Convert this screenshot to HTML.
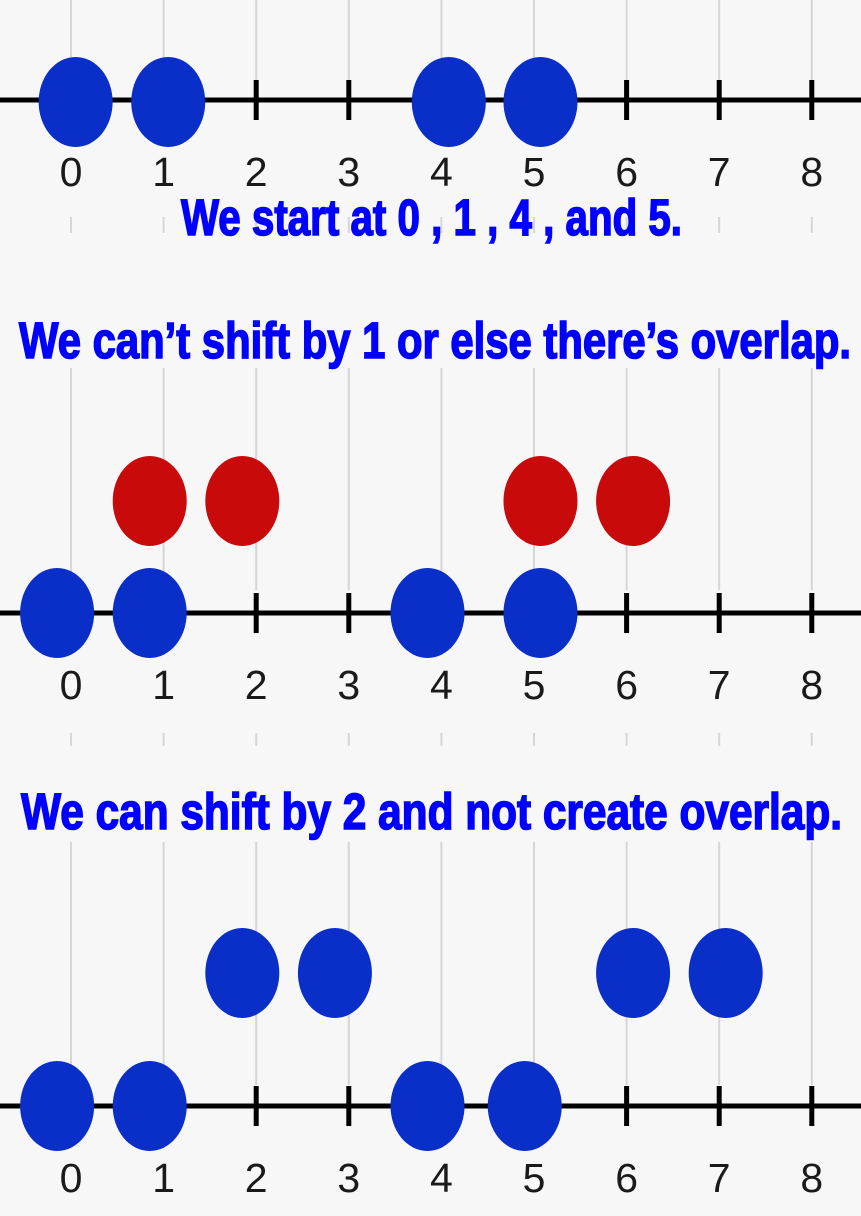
<!DOCTYPE html>
<html><head><meta charset="utf-8"><style>
html,body{margin:0;padding:0;background:#f7f7f7;}
svg{display:block;}
</style></head><body>
<svg id="chart" width="861" height="1216" viewBox="0 0 861 1216" xmlns="http://www.w3.org/2000/svg">
<rect x="0" y="0" width="861" height="1216" fill="#f7f7f7"/>
<g id="grid"></g>
<g id="lines"></g>
<g id="dots"></g>
<g font-family="'Liberation Sans Narrow','Liberation Sans',sans-serif" font-weight="bold" fill="#0000ff" stroke="#0000ff" stroke-width="1.6" font-size="51">
<text x="181" y="235" textLength="501" lengthAdjust="spacingAndGlyphs">We start at 0 , 1 , 4 , and 5.</text>
<text x="19" y="358" textLength="832" lengthAdjust="spacingAndGlyphs">We can’t shift by 1 or else there’s overlap.</text>
<text x="21" y="829" textLength="821" lengthAdjust="spacingAndGlyphs">We can shift by 2 and not create overlap.</text>
</g>
</svg>
<script>
const ticks = [0,1,2,3,4,5,6,7,8];
const tickLabels = ["0","1","2","3","4","5","6","7","8"];
const row1Blue = [0.05, 1.05, 4.08, 5.07];
const row2Red = [0.85, 1.85, 5.07, 6.07];
const row2Blue = [-0.15, 0.85, 3.85, 5.07];
const row3Top = [1.85, 2.85, 6.07, 7.07];
const row3Bottom = [-0.15, 0.85, 3.85, 4.9];

const NS = "http://www.w3.org/2000/svg";
function xs(v){ return 71 + v * 92.6; }
function mk(tag, attrs, parent){
  const e = document.createElementNS(NS, tag);
  for (const k in attrs) e.setAttribute(k, attrs[k]);
  parent.appendChild(e);
  return e;
}
const grid = document.getElementById('grid');
const lines = document.getElementById('lines');
const dots = document.getElementById('dots');
const segs = [[0,80],[217,233],[368,590],[733,746],[842,1085]];
ticks.forEach(t => {
  segs.forEach(s => {
    const l = mk('line', {x1:xs(t), x2:xs(t), y1:s[0], y2:s[1], stroke:'#d6d6d6', 'stroke-width':2}, grid);
    
    
  });
});
const axisYs = [100, 613, 1106];
axisYs.forEach(y => {
  const a = mk('line', {x1:0, x2:861, y1:y, y2:y, stroke:'#000', 'stroke-width':5}, lines);
  
  
  ticks.forEach((t, i) => {
    const tk = mk('line', {x1:xs(t), x2:xs(t), y1:y-20, y2:y+20, stroke:'#000', 'stroke-width':5}, lines);
    
    
    const tx = mk('text', {x:xs(t), y:y+86, 'text-anchor':'middle', 'font-family':"'Liberation Sans',sans-serif", 'font-size':41, fill:'#1a1a1a'}, lines);
    tx.textContent = tickLabels[i];
    
    
  });
});
function drawDots(arr, cy, color, name){
  arr.forEach(v => {
    const e = mk('ellipse', {cx:xs(v), cy:cy, rx:37, ry:45, fill:color}, dots);
    
    
  });
}
drawDots(row1Blue, 102, '#0a2ec8', 'start-dot');
drawDots(row2Red, 501, '#c80a0a', 'overlap-shift-dot');
drawDots(row2Blue, 613, '#0a2ec8', 'start-dot');
drawDots(row3Top, 973, '#0a2ec8', 'shifted-dot');
drawDots(row3Bottom, 1106, '#0a2ec8', 'start-dot');
</script>
</body></html>
